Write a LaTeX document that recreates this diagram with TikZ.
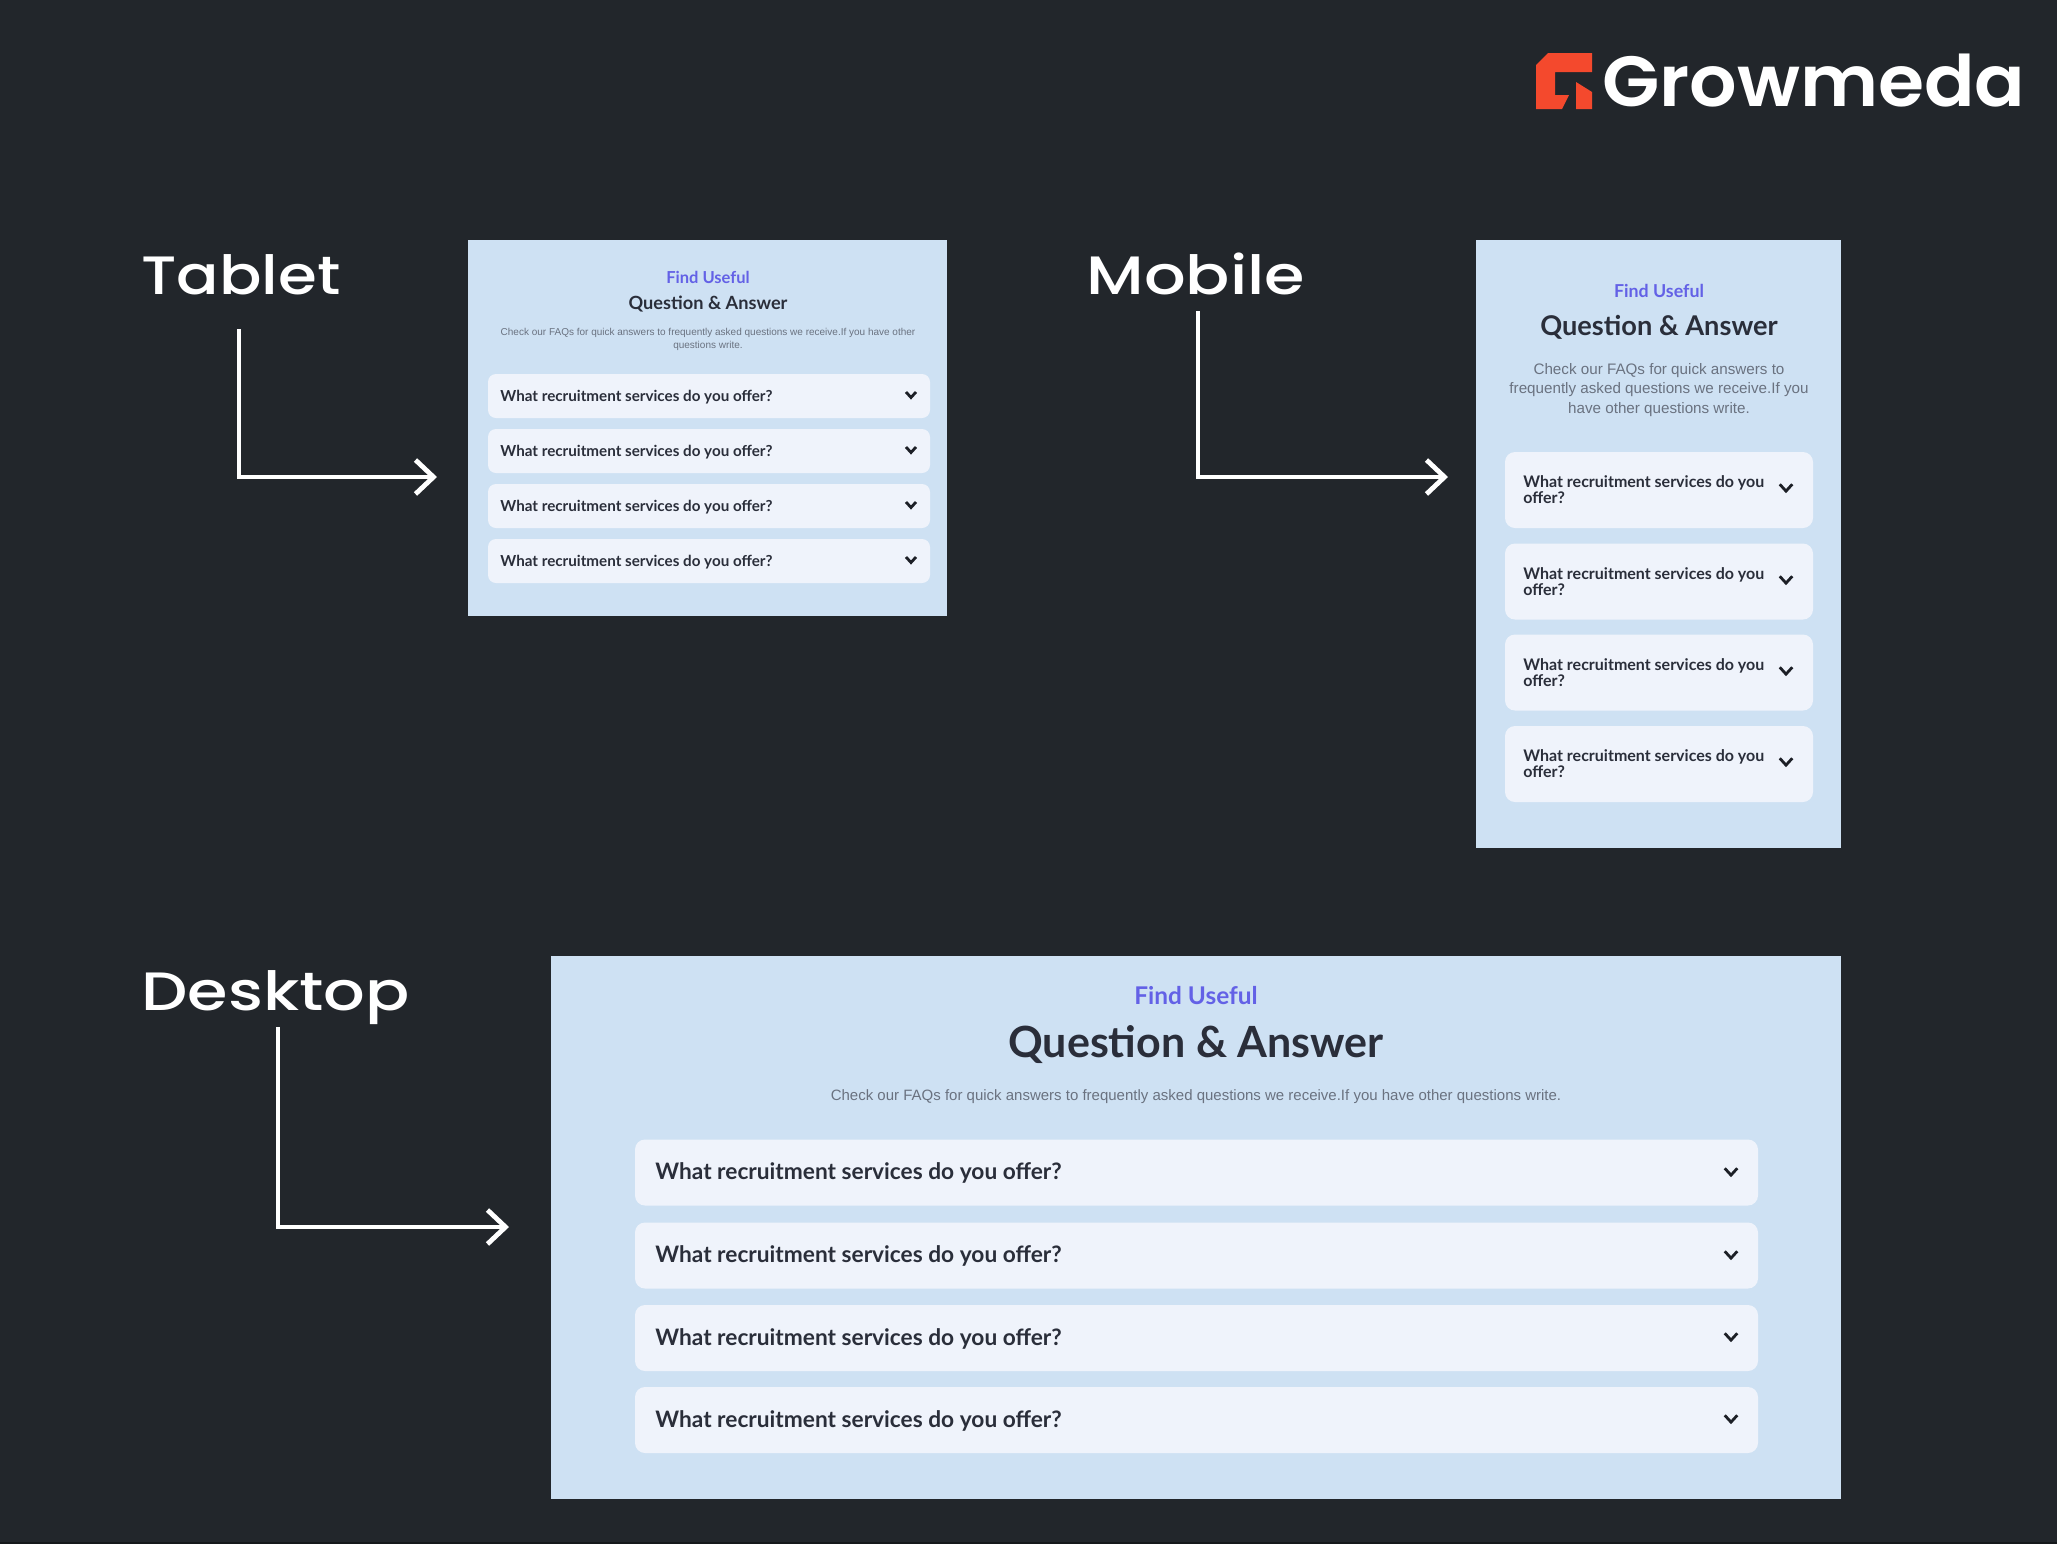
\documentclass[tikz,border=0pt]{standalone}
\usepackage{fontspec}
\usetikzlibrary{arrows.meta}
\setmainfont{Liberation Sans}
\newfontfamily\headfont{Poppins}[BoldFont={Poppins SemiBold}]
\newfontfamily\labelfont{Poppins Medium}
\newfontfamily\faqfont{Lato}
\definecolor{pagebg}{HTML}{22262B}
\definecolor{pageedge}{HTML}{15181B}
\definecolor{panelblue}{HTML}{CEE1F3}
\definecolor{rowwhite}{HTML}{EFF3FB}
\definecolor{findblue}{HTML}{6361E6}
\definecolor{inkdark}{HTML}{2A2E3A}
\definecolor{inkblack}{HTML}{1C1F26}
\definecolor{inkgrey}{HTML}{6A7280}
\definecolor{logored}{HTML}{F4492D}
\tikzset{
  panel/.style={fill=panelblue, inner sep=0pt, outer sep=0pt},
  tabletrow/.style={fill=rowwhite, rounded corners=4pt, inner sep=0pt, minimum width=221pt, minimum height=22pt},
  mobilerow/.style={fill=rowwhite, rounded corners=5pt, inner sep=0pt, minimum width=154pt, minimum height=38pt},
  desktoprow/.style={fill=rowwhite, rounded corners=5pt, inner sep=0pt, minimum width=561.5pt, minimum height=33pt},
  devicelabel/.style={text=white, anchor=base west, inner sep=0pt, font=\labelfont\fontsize{27}{27}\selectfont, xscale=1.21},
  findtext/.style={text=findblue, inner sep=0pt},
  titletext/.style={text=inkdark, inner sep=0pt},
  desctext/.style={text=inkgrey, inner sep=0pt, align=center},
  rowtext/.style={text=inkdark, anchor=west, inner sep=0pt, align=left},
  tablettext/.style={rowtext, font=\faqfont\bfseries\fontsize{7.6}{7.6}\selectfont},
  mobiletext/.style={rowtext, font=\faqfont\bfseries\fontsize{8}{8.1}\selectfont},
  desktoptext/.style={rowtext, font=\faqfont\bfseries\fontsize{11.35}{11.35}\selectfont},
  bentarrow/.style={draw=white, line width=2pt, -{Straight Barb[length=9pt,width=17pt,line width=2.4pt]}},
  chevron/.pic={\draw[inkblack, line width=1.4pt] (-5,-3) -- (0,2.5) -- (5,-3);}
}
\begin{document}
\begin{tikzpicture}[x=0.5pt, y=-0.5pt]
  \useasboundingbox (0,0) rectangle (2057,1543);
  \fill[pagebg] (-5,-5) rectangle (2062,1548);
  \fill[pageedge] (-5,1542) rectangle (2062,1548);

  % logo
  \fill[logored] (1536,65) -- (1548,53) -- (1592,53) -- (1592,72) -- (1555,72) -- (1555,95) -- (1569,95) -- (1562,109) -- (1536,109) -- cycle;
  \fill[logored] (1576,82) -- (1592,92) -- (1592,109) -- (1576,109) -- cycle;
  \node[text=white, anchor=base west, inner sep=0pt, xscale=1.05, font=\headfont\bfseries\fontsize{35.5}{35.5}\selectfont] (logoname) at (1602,106) {Growmeda};

  % tablet
  \node[devicelabel, xscale=0.96] (tabletlabel) at (141,294) {Tablet};
  \node[panel, minimum width=239.5pt, minimum height=188pt] (tabletpanel) at (707.5,428) {};
  \node[findtext, font=\faqfont\bfseries\fontsize{8.25}{8.25}\selectfont] (tabletfind) at (708,277) {Find Useful};
  \node[titletext, font=\faqfont\bfseries\fontsize{9.1}{9.1}\selectfont] (tablettitle) at (708,304) {Question \& Answer};
  \node[desctext, font=\fontsize{5}{6.5}\selectfont] (tabletdesc) at (708,339) {Check our FAQs for quick answers to frequently asked questions we receive.If you have other\\questions write.};
  \node[tabletrow] (tabletrowa) at (709,396) {};
  \node[tabletrow] (tabletrowb) at (709,451) {};
  \node[tabletrow] (tabletrowc) at (709,506) {};
  \node[tabletrow] (tabletrowd) at (709,561) {};
  \node[tablettext] (tablettexta) at (500,397) {What recruitment services do you offer?};
  \node[tablettext] (tablettextb) at (500,452) {What recruitment services do you offer?};
  \node[tablettext] (tablettextc) at (500,507) {What recruitment services do you offer?};
  \node[tablettext] (tablettextd) at (500,562) {What recruitment services do you offer?};
  \pic at (911,395) {chevron};
  \pic at (911,450) {chevron};
  \pic at (911,505) {chevron};
  \pic at (911,560) {chevron};
  \coordinate (tabletstart) at (239,329);
  \coordinate (tabletend) at (437,477);
  \draw[bentarrow] (tabletstart) |- (tabletend);

  % mobile
  \node[devicelabel] (mobilelabel) at (1086,294) {Mobile};
  \node[panel, minimum width=182.5pt, minimum height=304pt] (mobilepanel) at (1658.5,544) {};
  \node[findtext, font=\faqfont\bfseries\fontsize{8.9}{8.9}\selectfont] (mobilefind) at (1659,291) {Find Useful};
  \node[titletext, font=\faqfont\bfseries\fontsize{13.6}{13.6}\selectfont] (mobiletitle) at (1659,327) {Question \& Answer};
  \node[desctext, font=\fontsize{7.6}{9.6}\selectfont] (mobiledesc) at (1659,390) {Check our FAQs for quick answers to\\frequently asked questions we receive.If you\\have other questions write.};
  \node[mobilerow] (mobilerowa) at (1659,490) {};
  \node[mobilerow] (mobilerowb) at (1659,581.5) {};
  \node[mobilerow] (mobilerowc) at (1659,672.5) {};
  \node[mobilerow] (mobilerowd) at (1659,764) {};
  \node[mobiletext] (mobiletexta) at (1523,490) {What recruitment services do you\\offer?};
  \node[mobiletext] (mobiletextb) at (1523,582) {What recruitment services do you\\offer?};
  \node[mobiletext] (mobiletextc) at (1523,673) {What recruitment services do you\\offer?};
  \node[mobiletext] (mobiletextd) at (1523,764) {What recruitment services do you\\offer?};
  \pic[scale=1.25] at (1786,488) {chevron};
  \pic[scale=1.25] at (1786,580) {chevron};
  \pic[scale=1.25] at (1786,671) {chevron};
  \pic[scale=1.25] at (1786,762) {chevron};
  \coordinate (mobilestart) at (1198,311);
  \coordinate (mobileend) at (1448,477);
  \draw[bentarrow] (mobilestart) |- (mobileend);

  % desktop
  \node[devicelabel] (desktoplabel) at (141,1010) {Desktop};
  \node[panel, minimum width=645pt, minimum height=271.5pt] (desktoppanel) at (1196,1227.5) {};
  \node[findtext, font=\faqfont\bfseries\fontsize{12.2}{12.2}\selectfont] (desktopfind) at (1196,996) {Find Useful};
  \node[titletext, font=\faqfont\bfseries\fontsize{21.5}{21.5}\selectfont] (desktoptitle) at (1196,1045) {Question \& Answer};
  \node[desctext, font=\fontsize{7.5}{9}\selectfont] (desktopdesc) at (1196,1097) {Check our FAQs for quick answers to frequently asked questions we receive.If you have other questions write.};
  \node[desktoprow] (desktoprowa) at (1196.5,1172.5) {};
  \node[desktoprow] (desktoprowb) at (1196.5,1255.5) {};
  \node[desktoprow] (desktoprowc) at (1196.5,1338) {};
  \node[desktoprow] (desktoprowd) at (1196.5,1420) {};
  \node[desktoptext] (desktoptexta) at (655,1173) {What recruitment services do you offer?};
  \node[desktoptext] (desktoptextb) at (655,1256) {What recruitment services do you offer?};
  \node[desktoptext] (desktoptextc) at (655,1339) {What recruitment services do you offer?};
  \node[desktoptext] (desktoptextd) at (655,1421) {What recruitment services do you offer?};
  \pic[scale=1.25] at (1731,1172) {chevron};
  \pic[scale=1.25] at (1731,1255) {chevron};
  \pic[scale=1.25] at (1731,1337) {chevron};
  \pic[scale=1.25] at (1731,1419) {chevron};
  \coordinate (desktopstart) at (278,1027);
  \coordinate (desktopend) at (509,1227);
  \draw[bentarrow] (desktopstart) |- (desktopend);
\end{tikzpicture}
\end{document}
